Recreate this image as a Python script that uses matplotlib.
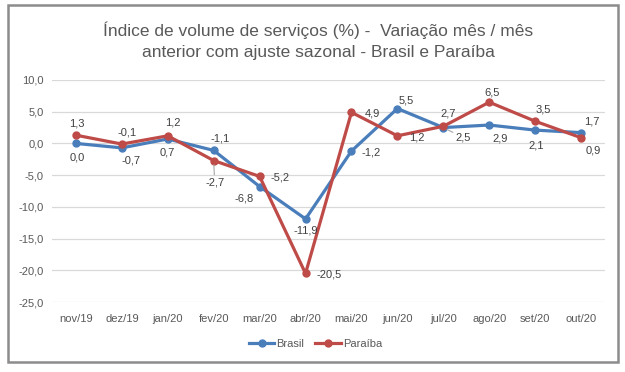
import matplotlib
matplotlib.use("Agg")
import matplotlib.pyplot as plt
from matplotlib.patches import Rectangle
import numpy as np

plt.rcParams['font.family'] = ['Liberation Sans Narrow', 'Liberation Sans', 'DejaVu Sans']

meses = ["nov/19", "dez/19", "jan/20", "fev/20", "mar/20", "abr/20",
         "mai/20", "jun/20", "jul/20", "ago/20", "set/20", "out/20"]
brasil = [0.0, -0.7, 0.7, -1.1, -6.8, -11.9, -1.2, 5.5, 2.5, 2.9, 2.1, 1.7]
paraiba = [1.3, -0.1, 1.2, -2.7, -5.2, -20.5, 4.9, 1.2, 2.7, 6.5, 3.5, 0.9]
y_ticks = [10, 5, 0, -5, -10, -15, -20, -25]

# deslocamento dos rótulos (pixels, y para baixo)
off_br = [(1, 14), (9, 13), (0, 14), (6, -12), (-15, 12), (0, 12),
          (20, 1), (9, -8), (20, 10), (11, 13), (1, 15), (11, -11)]
off_pb = [(1, -12), (5, -12), (5, -13), (1, 22), (20, 1), (24, 1),
          (21, 1), (19, 2), (5, -13), (3, -10), (8, -12), (12, 13)]
leader_br = [8]
leader_pb = [3]

azul = "#4a7ebb"
vermelho = "#be4b48"

fig = plt.figure(figsize=(6.25, 3.72), dpi=100)
ax = fig.add_axes([52/625, 1-302/372, (605-52)/625, (302-80)/372])

x = np.arange(len(meses))
ax.plot(x, brasil, color=azul, lw=2.3, marker="o", ms=5, label="Brasil", zorder=3)
ax.plot(x, paraiba, color=vermelho, lw=2.3, marker="o", ms=5, label="Paraíba", zorder=4)

def fmt(v):
    return f"{v:.1f}".replace(".", ",")

def rotulos(vals, offs, leaders):
    for i, (v, (dx, dy)) in enumerate(zip(vals, offs)):
        ap = None
        if i in leaders:
            ap = dict(arrowstyle="-", color="#a6a6a6", lw=0.8, shrinkA=0, shrinkB=3)
        ax.annotate(fmt(v), (x[i], v), xytext=(dx, -dy), textcoords="offset pixels",
                    ha="center", va="center", fontsize=8, color="#404040",
                    arrowprops=ap, zorder=5)

rotulos(brasil, off_br, leader_br)
rotulos(paraiba, off_pb, leader_pb)

ax.set_xlim(-0.52, len(meses) - 0.48)
ax.set_ylim(-25, 10)
ax.set_yticks(y_ticks)
ax.set_yticklabels([fmt(t) for t in y_ticks])
ax.set_xticks(x)
ax.set_xticklabels(meses)
ax.tick_params(axis="both", length=0, labelsize=8, colors="#595959")
ax.tick_params(axis="x", pad=9)
ax.tick_params(axis="y", pad=6)
ax.grid(axis="y", color="#d9d9d9", lw=0.9)
ax.set_axisbelow(True)
for s in ax.spines.values():
    s.set_visible(False)

fig.text(0.509, 1-30/372, "Índice de volume de serviços (%) -  Variação mês / mês",
         ha="center", va="center", fontsize=12.5, color="#595959")
fig.text(0.509, 1-52/372, "anterior com ajuste sazonal - Brasil e Paraíba",
         ha="center", va="center", fontsize=12.5, color="#595959")

fig.legend(loc="center", bbox_to_anchor=(0.505, 1-344/372), ncol=2, frameon=False,
           fontsize=8, labelcolor="#595959", handlelength=2.3, columnspacing=1.0,
           handletextpad=0.2)

fig.patches.append(Rectangle((8/625, 1-362/372), 610/625, 357/372, transform=fig.transFigure,
                             fill=False, edgecolor="#8c8c8c", lw=1.8))

fig.savefig("out.png", dpi=100)
